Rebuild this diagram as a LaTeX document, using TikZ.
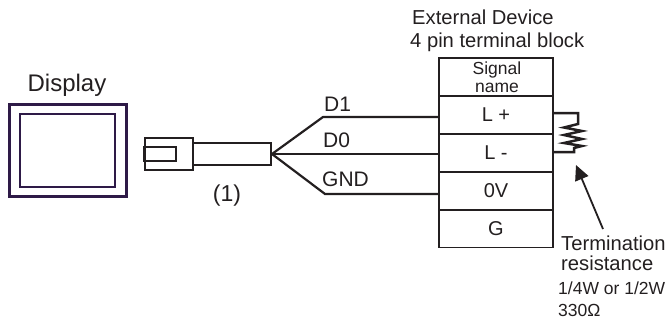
\documentclass[tikz,border=0pt]{standalone}
\usepackage{fontspec}
\setmainfont{Liberation Sans}
\usetikzlibrary{arrows.meta}
\definecolor{ink}{HTML}{231F20}
\definecolor{frame}{HTML}{2E1A47}

\begin{document}
\begin{tikzpicture}
          [x=1pt,y=-1pt,
           every node/.style={text=ink,inner sep=0pt},
           label/.style={font=\fontsize{20.2}{24}\selectfont},
           tag/.style={font=\fontsize{21}{24}\selectfont},
           small/.style={font=\fontsize{17.5}{20}\selectfont},
           cell/.style={draw=ink,line width=1.9pt,minimum width=114pt,minimum height=38pt,
                        font=\fontsize{20}{20}\selectfont},
           wire/.style={draw=ink,line width=2.2pt}]
          \useasboundingbox (0,0) rectangle (669,322);

          % display
          \node[draw=frame,line width=3pt,minimum width=117pt,minimum height=92pt] (outer) at (67.5,150) {};
          \node[draw=frame,line width=2.6pt,minimum width=95pt,minimum height=73pt] (inner) at (67.5,150.5) {};
          \node[font=\fontsize{24}{24}\selectfont] (display) at (67,85) {Display};

          % plug and cable
          \node[draw=ink,line width=2.2pt,minimum width=48pt,minimum height=32pt] (plug) at (169,154) {};
          \node[draw=ink,line width=2.2pt,minimum width=32pt,minimum height=14pt] (tab) at (160,154) {};
          \node[draw=ink,line width=2.2pt,minimum width=78pt,minimum height=22pt] (cable) at (232,154) {};
          \node[font=\fontsize{23}{24}\selectfont] (one) at (227,196) {(1)};

          % terminal block
          \node[cell,minimum height=38pt] (name) at (496,77) {};
          \node[font=\fontsize{17.5}{17.5}\selectfont,align=center] (sig) at (497,77) {Signal\\name};
          \node[cell] (lp) at (496,115) {L +};
          \node[cell] (lm) at (496,153) {L -};
          \node[cell] (zero) at (496,191) {0V};
          \node[cell] (g) at (496,228.5) {G};
          \node[label,anchor=west] (ext) at (412,17) {External Device};
          \node[label,anchor=west] (pin) at (410,42) {4 pin terminal block};

          % wires
          \coordinate (fan) at (272,154);
          \coordinate (b1) at (323,117);
          \coordinate (e1) at (439,117);
          \coordinate (e0) at (439,154);
          \coordinate (b2) at (325,194);
          \coordinate (e2) at (439,194);
          \draw[wire] (fan) -- (b1) -- (e1);
          \draw[wire] (fan) -- (e0);
          \draw[wire] (fan) -- (b2) -- (e2);
          \node[tag,anchor=west] (d1) at (324,104) {D1};
          \node[tag,anchor=west] (d0) at (323,140) {D0};
          \node[tag,anchor=west] (gnd) at (322,179) {GND};

          % resistor
          \coordinate (r1) at (554,113);
          \coordinate (r2) at (554,152);
          \draw[wire,line width=2.5pt,line join=miter] (r1) -- (578,113) -- (578,124) -- (564,127.5) -- (582,131) -- (564,135)
            -- (582,139) -- (564,143) -- (582,146) -- (574,148) -- (574,152) -- (r2);

          % arrow
          \coordinate (tip) at (576,165);
          \coordinate (tail) at (603,229);
          \draw[draw=ink,line width=1.8pt,-{Triangle[length=15pt,width=14pt]}] (tail) -- (tip);

          \node[label,anchor=west] (term) at (561,243) {Termination};
          \node[label,anchor=west] (res) at (561,263) {resistance};
          \node[small,anchor=west] (watt) at (558,288) {1/4W or 1/2W};
          \node[small,anchor=west] (ohm) at (558,310) {330Ω};
        \end{tikzpicture}
\end{document}
